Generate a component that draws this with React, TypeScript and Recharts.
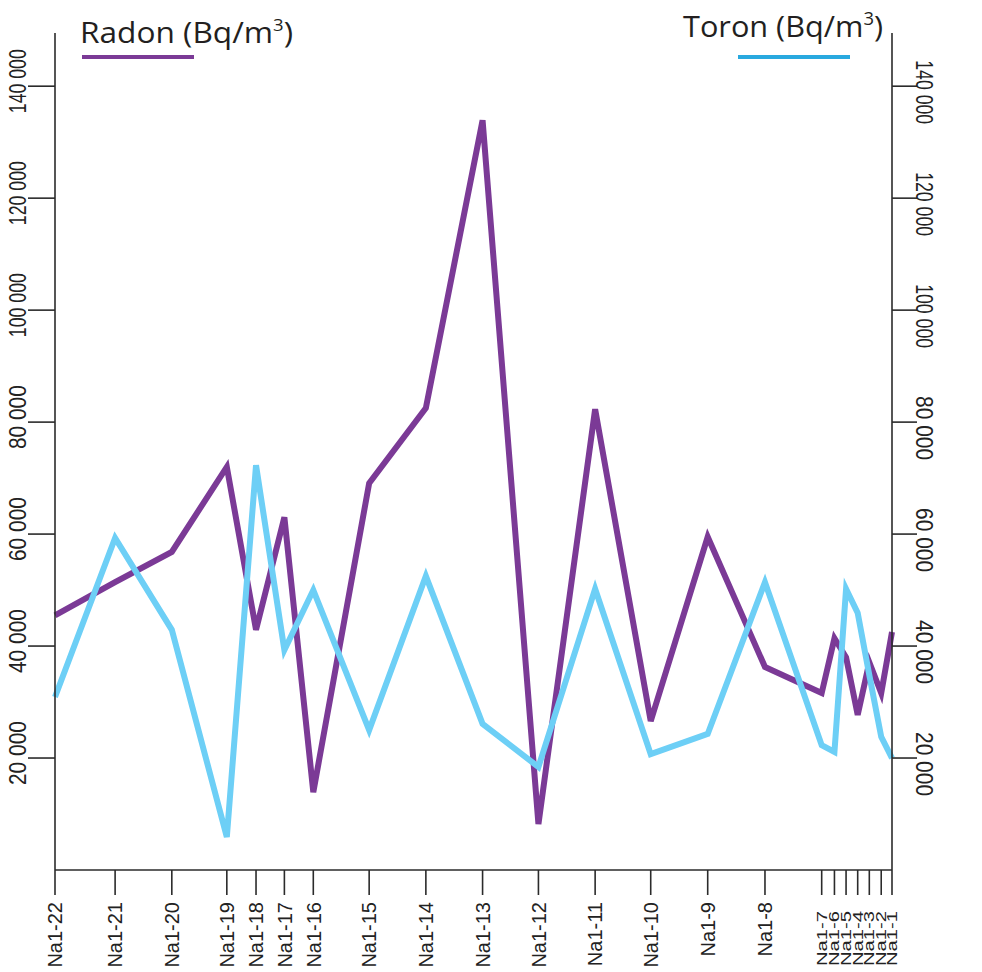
import React from 'react';
import { LineChart, Line, XAxis, YAxis, Legend } from 'recharts';

// Sample names along the profile (left to right)
const samples = [
  'Na1-22', 'Na1-21', 'Na1-20', 'Na1-19', 'Na1-18', 'Na1-17', 'Na1-16', 'Na1-15',
  'Na1-14', 'Na1-13', 'Na1-12', 'Na1-11', 'Na1-10', 'Na1-9', 'Na1-8', 'Na1-7',
  'Na1-6', 'Na1-5', 'Na1-4', 'Na1-3', 'Na1-2', 'Na1-1',
];

// Position of each sample along the profile (distance units)
const positions = [
  0, 10.6, 20.6, 30.3, 35.45, 40.45, 45.55, 55.4, 65.4, 75.4, 85.25, 95.25,
  105.05, 115.1, 125.2, 135.2, 137.45, 139.5, 141.55, 143.6, 145.7, 147.6,
];

// Radon concentration (Bq/m3)
const radon = [
  45500, 51400, 56800, 72000, 42900, 63000, 13900, 69100, 82500, 133900, 8200,
  82300, 26600, 59500, 36250, 31600, 41400, 38000, 27700, 37100, 31600, 42500,
];

// Thoron concentration (Bq/m3)
const toron = [
  30900, 59300, 42900, 5900, 72300, 39300, 50000, 25000, 52500, 26100, 18400,
  50200, 20700, 24300, 51400, 22300, 21100, 50200, 45900, 34800, 23800, 20000,
];

const yTicks = [20000, 40000, 60000, 80000, 100000, 120000, 140000];
const yMax = 149500;
const xMax = 147.6;

const RADON_COLOR = '#7b3a96';
const TORON_COLOR = '#6dcff6';
const TORON_LEGEND_COLOR = '#29a9df';
const AXIS_COLOR = '#2b2b2b';
const TICK_FONT = '"Liberation Sans", Arial, sans-serif';
const LEGEND_FONT = '"Open Sans", "Noto Sans", sans-serif';

const data = positions.map((p, i) => ({
  pos: p,
  name: samples[i],
  radon: radon[i],
  toron: toron[i],
}));

const formatThousands = (v: number) => {
  const s = String(v);
  return s.length > 3 ? s.slice(0, s.length - 3) + ' ' + s.slice(s.length - 3) : s;
};

const minGap = (i: number) => {
  const a = i > 0 ? positions[i] - positions[i - 1] : Infinity;
  const b = i < positions.length - 1 ? positions[i + 1] - positions[i] : Infinity;
  return Math.min(a, b);
};

const XTick = (props: any) => {
  const { x, y, payload } = props;
  const i = positions.indexOf(payload.value);
  const label = i >= 0 ? samples[i] : '';
  const compact = i >= 0 && minGap(i) < 3;
  return (
    <text
      transform={`translate(${x},${y}) rotate(-90)`}
      x={compact ? -16 : -7}
      y={0}
      dy="0.36em"
      textAnchor="end"
      fontFamily={TICK_FONT}
      fontSize={compact ? 14 : 20}
      fill="#222"
      textLength={compact ? 55 : undefined}
      lengthAdjust="spacingAndGlyphs"
    >
      {label}
    </text>
  );
};

const LeftYTick = (props: any) => {
  const { x, y, payload } = props;
  return (
    <text
      transform={`translate(${x - 11},${y}) rotate(-90)`}
      x={5}
      y={0}
      dy="0.36em"
      textAnchor="middle"
      fontFamily={TICK_FONT}
      fontSize={24}
      fill="#222"
      textLength={64}
      lengthAdjust="spacingAndGlyphs"
    >
      {formatThousands(payload.value)}
    </text>
  );
};

const RightYTick = (props: any) => {
  const { x, y, payload } = props;
  return (
    <text
      transform={`translate(${x + 8},${y}) rotate(90)`}
      x={6}
      y={0}
      dy="0.36em"
      textAnchor="middle"
      fontFamily={TICK_FONT}
      fontSize={24}
      fill="#222"
      textLength={64}
      lengthAdjust="spacingAndGlyphs"
    >
      {formatThousands(payload.value)}
    </text>
  );
};

const LegendContent = (props: any) => {
  const payload = props.payload || [];
  const find = (k: string) => payload.find((p: any) => p.dataKey === k) || {};
  const r = find('radon');
  const t = find('toron');
  return (
    <svg width={982} height={70} style={{ display: 'block' }}>
      <text
        x={80}
        y={43}
        fontFamily={LEGEND_FONT}
        fontSize={29}
        fill="#231f20"
        textLength={213}
        lengthAdjust="spacingAndGlyphs"
      >
        {(r.value || 'Radon') + ' (Bq/m'}
        <tspan fontSize={17} dy={-12}>3</tspan>
        <tspan dy={12}>)</tspan>
      </text>
      <line x1={82} x2={194} y1={57} y2={57} stroke={r.color || RADON_COLOR} strokeWidth={4} />
      <text
        x={683}
        y={37}
        fontFamily={LEGEND_FONT}
        fontSize={30}
        fill="#231f20"
        textLength={200}
        lengthAdjust="spacingAndGlyphs"
      >
        {(t.value || 'Toron') + ' (Bq/m'}
        <tspan fontSize={18} dy={-12}>3</tspan>
        <tspan dy={12}>)</tspan>
      </text>
      <line x1={738} x2={850} y1={57} y2={57} stroke={TORON_LEGEND_COLOR} strokeWidth={4} />
    </svg>
  );
};

export default function App() {
  return (
    <div style={{ position: 'absolute', left: 0, top: 0, width: 982, height: 972, background: '#fff' }}>
      <LineChart
        width={982}
        height={972}
        data={data}
        margin={{ top: 33, right: 30, bottom: 2, left: 0 }}
      >
        <XAxis
          dataKey="pos"
          type="number"
          domain={[0, xMax]}
          ticks={positions}
          interval={0}
          height={100}
          tickSize={25}
          tickMargin={0}
          axisLine={{ stroke: AXIS_COLOR, strokeWidth: 1.6 }}
          tickLine={{ stroke: AXIS_COLOR, strokeWidth: 1.6 }}
          tick={<XTick />}
        />
        <YAxis
          yAxisId="left"
          orientation="left"
          type="number"
          domain={[0, yMax]}
          ticks={yTicks}
          interval={0}
          width={55}
          tickSize={27}
          tickMargin={0}
          axisLine={{ stroke: AXIS_COLOR, strokeWidth: 1.6 }}
          tickLine={{ stroke: AXIS_COLOR, strokeWidth: 1.6 }}
          tick={<LeftYTick />}
        />
        <YAxis
          yAxisId="right"
          orientation="right"
          type="number"
          domain={[0, yMax]}
          ticks={yTicks}
          interval={0}
          width={60}
          tickSize={25}
          tickMargin={0}
          axisLine={{ stroke: AXIS_COLOR, strokeWidth: 1.6 }}
          tickLine={{ stroke: AXIS_COLOR, strokeWidth: 1.6 }}
          tick={<RightYTick />}
        />
        <Legend
          layout="horizontal"
          verticalAlign="middle"
          align="center"
          content={<LegendContent />}
          wrapperStyle={{ position: 'absolute', top: 0, left: 0, width: 982, height: 70, margin: 0, padding: 0, pointerEvents: 'none' }}
        />
        <Line
          yAxisId="left"
          type="linear"
          dataKey="radon"
          name="Radon"
          stroke={RADON_COLOR}
          strokeWidth={6}
          dot={false}
          activeDot={false}
          isAnimationActive={false}
        />
        <Line
          yAxisId="right"
          type="linear"
          dataKey="toron"
          name="Toron"
          stroke={TORON_COLOR}
          strokeWidth={6}
          dot={false}
          activeDot={false}
          isAnimationActive={false}
        />
      </LineChart>
    </div>
  );
}
